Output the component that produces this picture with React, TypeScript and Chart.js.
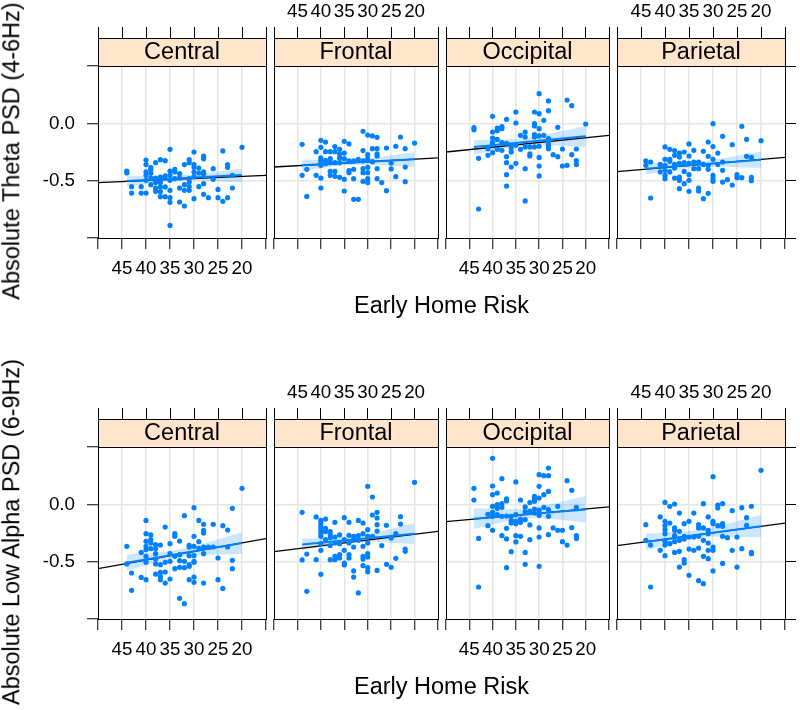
import React, { useEffect, useRef } from 'react';
import { Chart, registerables } from 'chart.js';

Chart.register(...registerables);

const FONT = '"Liberation Sans", Arial, Helvetica, sans-serif';
Chart.defaults.font.family = FONT;
Chart.defaults.color = '#000';

// ---------------- data ----------------
type Group = [number, number[]];

const regions = ['Central', 'Frontal', 'Occipital', 'Parietal'];
const rowYLabels = ['Absolute Theta PSD (4-6Hz)', 'Absolute Low Alpha PSD (6-9Hz)'];
const xLabel = 'Early Home Risk';
const xTickLabels = ['45', '40', '35', '30', '25', '20'];
const yTickLabels = ['0.0', '-0.5'];

const thetaCentral: Group[] = [
  [44, [-0.416, -0.433]], [43, [-0.552, -0.608]], [41, [-0.552, -0.608]],
  [40, [-0.32, -0.36, -0.424, -0.453, -0.497, -0.608]],
  [39, [-0.384, -0.404, -0.436, -0.477, -0.535]],
  [38, [-0.343, -0.477, -0.517, -0.564, -0.593]],
  [37, [-0.317, -0.468, -0.517, -0.555, -0.596, -0.64]],
  [36, [-0.326, -0.459, -0.555, -0.64]],
  [35, [-0.227, -0.416, -0.453, -0.497, -0.584, -0.648, -0.689, -0.89]],
  [34, [-0.401, -0.424, -0.483]],
  [33, [-0.439, -0.477, -0.564, -0.686]],
  [32, [-0.36, -0.535, -0.584, -0.721]],
  [31, [-0.317, -0.343, -0.483, -0.512, -0.552, -0.584]],
  [30, [-0.25, -0.36, -0.384, -0.424, -0.465, -0.657]],
  [29, [-0.39, -0.433, -0.552]],
  [28, [-0.285, -0.308, -0.424, -0.442, -0.526, -0.619]],
  [27, [-0.648]], [26, [-0.395, -0.488]], [25, [-0.576, -0.648]],
  [24, [-0.241, -0.68]], [23, [-0.36, -0.384, -0.648]], [22, [-0.453, -0.564]],
  [20, [-0.209]],
];

const thetaFrontal: Group[] = [
  [44, [-0.183, -0.453]], [43, [-0.401, -0.637]], [41, [-0.247, -0.453]],
  [40, [-0.148, -0.209, -0.302, -0.323, -0.343, -0.366, -0.477, -0.564]],
  [39, [-0.163, -0.247, -0.323, -0.352]],
  [38, [-0.247, -0.308, -0.343, -0.419, -0.453]],
  [37, [-0.203, -0.247, -0.343, -0.419, -0.462]],
  [36, [-0.227, -0.267, -0.302, -0.343, -0.471]],
  [35, [-0.157, -0.259, -0.308, -0.488, -0.59]],
  [34, [-0.18, -0.328, -0.413, -0.43]],
  [33, [-0.328, -0.401, -0.483, -0.663]],
  [32, [-0.314, -0.663]],
  [31, [-0.07, -0.238, -0.328, -0.395, -0.43, -0.506]],
  [30, [-0.102, -0.273, -0.308, -0.384, -0.43, -0.483, -0.517]],
  [29, [-0.11, -0.221, -0.334]],
  [28, [-0.122, -0.221, -0.267, -0.285, -0.395, -0.483]],
  [27, [-0.517]], [26, [-0.215, -0.587]], [25, [-0.346, -0.398]],
  [24, [-0.2, -0.465]], [23, [-0.119]], [22, [-0.221, -0.381, -0.509]],
  [20, [-0.172]],
];

const thetaOccipital: Group[] = [
  [44, [-0.038, -0.055]], [43, [-0.305, -0.747]], [41, [-0.221, -0.279]],
  [40, [0.061, -0.076, -0.128, -0.166, -0.186, -0.256]],
  [39, [-0.041, -0.064, -0.14, -0.227]],
  [38, [-0.029, -0.047, -0.169, -0.235]],
  [37, [0.035, -0.174, -0.291, -0.343, -0.448, -0.547]],
  [36, [-0.192, -0.215, -0.25, -0.381]],
  [35, [0.099, 0.003, -0.192, -0.349]],
  [34, [-0.105, -0.227]],
  [33, [-0.076, -0.119, -0.206, -0.395, -0.677]],
  [32, [-0.206, -0.267, -0.285]],
  [31, [0.099, -0.003, -0.023, -0.099, -0.119, -0.206]],
  [30, [0.259, 0.084, -0.047, -0.11, -0.2, -0.297, -0.372, -0.459]],
  [29, [0.026, -0.105]],
  [28, [0.195, 0.11, -0.134, -0.163, -0.192, -0.221]],
  [27, [-0.273]], [26, [-0.035, -0.291]], [25, [-0.224, -0.372]],
  [24, [0.203, -0.366]], [23, [0.154, -0.273]], [22, [-0.224, -0.326, -0.358]],
  [20, [-0.006]],
];

const thetaParietal: Group[] = [
  [44, [-0.328, -0.366]], [43, [-0.337, -0.651]], [41, [-0.358, -0.424]],
  [40, [-0.206, -0.314, -0.366, -0.41, -0.453, -0.483]],
  [39, [-0.227, -0.314, -0.331, -0.424]],
  [38, [-0.238, -0.279, -0.358, -0.39, -0.477]],
  [37, [-0.259, -0.294, -0.349, -0.468, -0.497, -0.57]],
  [36, [-0.25, -0.343, -0.419, -0.526]],
  [35, [-0.18, -0.285, -0.349, -0.448, -0.497, -0.593]],
  [34, [-0.235, -0.337, -0.395]],
  [33, [-0.337, -0.395, -0.564, -0.59]],
  [32, [-0.244, -0.358, -0.657]],
  [31, [-0.163, -0.288, -0.366, -0.401, -0.61]],
  [30, [-0.003, -0.203, -0.314, -0.453, -0.483, -0.506]],
  [29, [-0.259, -0.36]],
  [28, [-0.113, -0.337, -0.41, -0.512]],
  [27, [-0.491]], [26, [-0.186, -0.538]], [25, [-0.448, -0.474]],
  [24, [-0.026, -0.474]], [23, [-0.14, -0.288]], [22, [-0.297, -0.471, -0.5]],
  [20, [-0.151]],
];

const alphaCentral: Group[] = [
  [44, [-0.366, -0.52]], [43, [-0.599, -0.75]], [41, [-0.419, -0.637]],
  [40, [-0.14, -0.256, -0.323, -0.366, -0.395, -0.453, -0.506, -0.657]],
  [39, [-0.267, -0.308, -0.337, -0.387]],
  [38, [-0.352, -0.387, -0.43, -0.477, -0.52, -0.608]],
  [37, [-0.355, -0.526, -0.593, -0.628, -0.657]],
  [36, [-0.198, -0.506, -0.59, -0.686]],
  [35, [-0.343, -0.43, -0.497, -0.651]],
  [34, [-0.256, -0.279, -0.453, -0.561]],
  [33, [-0.32, -0.439, -0.491, -0.549, -0.82]],
  [32, [-0.099, -0.497, -0.552, -0.866]],
  [31, [-0.358, -0.372, -0.448, -0.526, -0.541, -0.657]],
  [30, [-0.029, -0.279, -0.366, -0.448, -0.497, -0.506, -0.634, -0.68]],
  [29, [-0.14, -0.326, -0.384]],
  [28, [-0.174, -0.227, -0.25, -0.372, -0.43, -0.686]],
  [27, [-0.372]], [26, [-0.174, -0.372]], [25, [-0.468, -0.657]],
  [24, [-0.186, -0.733]], [23, [-0.224, -0.372]], [22, [-0.035, -0.488, -0.561]],
  [20, [0.14]],
];

const alphaFrontal: Group[] = [
  [44, [-0.07, -0.485]], [43, [-0.433, -0.759]], [41, [-0.11, -0.483]],
  [40, [-0.14, -0.163, -0.186, -0.209, -0.233, -0.256, -0.279, -0.343, -0.401, -0.61]],
  [39, [-0.128, -0.209, -0.238, -0.308]],
  [38, [-0.238, -0.262, -0.291, -0.36, -0.483]],
  [37, [-0.157, -0.285, -0.337, -0.453, -0.483]],
  [36, [-0.267, -0.343, -0.439, -0.468]],
  [35, [-0.116, -0.308, -0.401, -0.512, -0.529]],
  [34, [-0.157, -0.27, -0.337, -0.439, -0.468]],
  [33, [-0.279, -0.308, -0.372, -0.581, -0.634]],
  [32, [-0.14, -0.273, -0.314, -0.773]],
  [31, [-0.163, -0.256, -0.366, -0.453, -0.477, -0.535]],
  [30, [0.157, -0.221, -0.279, -0.337, -0.43, -0.459, -0.552, -0.587]],
  [29, [0.064, -0.093, -0.279]],
  [28, [-0.07, -0.119, -0.177, -0.233, -0.576]],
  [27, [-0.36]], [26, [-0.183, -0.523]], [25, [-0.294, -0.549]],
  [24, [-0.256, -0.471]], [23, [-0.108, -0.172]], [22, [-0.39, -0.41]],
  [20, [0.192]],
];

const alphaOccipital: Group[] = [
  [44, [0.14, 0.038]], [43, [-0.297, -0.721]], [41, [-0.087, -0.186]],
  [40, [0.401, 0.16, 0.084, -0.017, -0.07, -0.105, -0.227]],
  [39, [0.099, -0.003, -0.035, -0.09]],
  [38, [0.224, 0.006, -0.026, -0.105, -0.273]],
  [37, [0.047, 0.029, -0.102, -0.209, -0.302, -0.552]],
  [36, [-0.105, -0.14, -0.163, -0.413]],
  [35, [0.195, -0.09, -0.148, -0.169, -0.273, -0.328]],
  [34, [0.038, -0.128, -0.157, -0.279]],
  [33, [-0.023, -0.064, -0.134, -0.419, -0.523]],
  [32, [0.015, -0.061, -0.18, -0.308]],
  [31, [0.07, 0.049, 0.026, -0.041, -0.076]],
  [30, [0.259, 0.157, 0.055, -0.052, -0.096, -0.206, -0.285, -0.541]],
  [29, [0.25, 0.084, -0.026]],
  [28, [0.317, 0.25, 0.113, -0.047, -0.105, -0.265]],
  [27, [-0.206]], [26, [-0.017, -0.227]], [25, [-0.227, -0.326]],
  [24, [0.206, -0.355]], [23, [0.122, -0.203]], [22, [-0.026, -0.273, -0.297]],
];

const alphaParietal: Group[] = [
  [44, [-0.177, -0.314]], [43, [-0.355, -0.721]], [41, [-0.11, -0.401]],
  [40, [0.017, -0.148, -0.186, -0.221, -0.256, -0.323, -0.355, -0.448]],
  [39, [-0.017, -0.163, -0.343]],
  [38, [0.003, -0.206, -0.227, -0.273, -0.326, -0.419]],
  [37, [-0.076, -0.235, -0.314, -0.41, -0.547]],
  [36, [-0.169, -0.279, -0.302, -0.483, -0.512]],
  [35, [-0.148, -0.285, -0.39, -0.619]],
  [34, [-0.076, -0.285, -0.401]],
  [33, [-0.177, -0.206, -0.279, -0.381, -0.666]],
  [32, [0.006, -0.206, -0.314, -0.453, -0.692]],
  [31, [-0.11, -0.227, -0.256, -0.337, -0.401, -0.474]],
  [30, [0.241, -0.148, -0.169, -0.372, -0.401, -0.581]],
  [29, [-0.006, -0.032, -0.186]],
  [28, [0.006, -0.169, -0.192, -0.279, -0.515]],
  [27, [-0.291]], [26, [-0.055, -0.401]], [25, [-0.285, -0.547]],
  [24, [-0.029, -0.387]], [23, [-0.116, -0.183]], [22, [-0.017, -0.419, -0.43]],
  [20, [0.297]],
];

// fitted lines (blue, over data range), confidence band, overall line (black)
const fitX = [44, 20];
const bandX = [44, 33, 20];
const lmX = [50, 15];

const thetaFit = [[-0.503, -0.45], [-0.366, -0.314], [-0.206, -0.113], [-0.395, -0.317]];
const thetaBandLo = [[-0.548, -0.5, -0.512], [-0.415, -0.362, -0.38], [-0.27, -0.195, -0.205], [-0.445, -0.381, -0.39]];
const thetaBandHi = [[-0.46, -0.452, -0.395], [-0.318, -0.318, -0.25], [-0.145, -0.125, -0.025], [-0.345, -0.331, -0.245]];
const thetaLm = [[-0.517, -0.453], [-0.381, -0.302], [-0.25, -0.105], [-0.422, -0.297]];

const alphaFit = [[-0.51, -0.337], [-0.35, -0.256], [-0.125, -0.045], [-0.328, -0.192]];
const alphaBandLo = [[-0.576, -0.462, -0.43], [-0.401, -0.33, -0.346], [-0.215, -0.125, -0.157], [-0.401, -0.292, -0.288]];
const alphaBandHi = [[-0.44, -0.392, -0.244], [-0.299, -0.28, -0.163], [-0.035, -0.035, 0.07], [-0.256, -0.222, -0.096]];
const alphaLm = [[-0.561, -0.299], [-0.413, -0.235], [-0.151, -0.023], [-0.36, -0.163]];

const rows = [
  { groups: [thetaCentral, thetaFrontal, thetaOccipital, thetaParietal], fit: thetaFit, lo: thetaBandLo, hi: thetaBandHi, lm: thetaLm },
  { groups: [alphaCentral, alphaFrontal, alphaOccipital, alphaParietal], fit: alphaFit, lo: alphaBandLo, hi: alphaBandHi, lm: alphaLm },
];

// ---------------- layout ----------------
const PANEL_L = [98, 270, 442, 613];
const PANEL_R = [270, 442, 613, 785];
const ROW_TOP = [0, 355];
const AREA_TOP = [66, 92];
const AREA_BOTTOM = [238, 264];
const CANVAS_H = 355;
const STRIP_H = 28;
const TICK_FONT = 18.8;
const BIG_FONT = 23.5;

const BLUE = '#0080ff';
const GRID = '#e6e6e6';

const toPoints = (g: Group[]) => g.flatMap(([x, ys]) => ys.map((y) => ({ x, y })));
const pair = (xs: number[], ys: number[]) => xs.map((x, i) => ({ x, y: ys[i] }));

interface PanelProps { row: number; col: number; }

function Panel({ row, col }: PanelProps) {
  const ref = useRef<HTMLCanvasElement>(null);
  const padL = col === 0 ? 98 : 5;
  const padR = col === 3 ? 15 : 5;
  const left = PANEL_L[col] - padL;
  const width = PANEL_R[col] - PANEL_L[col] + padL + padR;
  const top = ROW_TOP[row];
  const areaTop = AREA_TOP[row];
  const areaBottom = AREA_BOTTOM[row];

  useEffect(() => {
    const r = rows[row];
    const name = regions[col];
    const showBottom = col % 2 === 0;
    const showTop = col % 2 === 1;
    const edgeX = (c: any) => (c.tick && (c.tick.value === 15 || c.tick.value === 50) ? 'rgba(0,0,0,0)' : GRID);
    const edgeY = (c: any) => (c.tick && (Math.abs(c.tick.value + 1) < 1e-9 || Math.abs(c.tick.value - 0.5) < 1e-9) ? 'rgba(0,0,0,0)' : GRID);
    const xCb = (show: boolean) => (v: any) => (show && xTickLabels.includes(String(v)) ? String(v) : '');

    const strip = {
      id: 'strip',
      afterDraw(chart: any) {
        const { ctx, chartArea } = chart;
        const { left: l, right: rr, top: t, bottom: b } = chartArea;
        ctx.save();
        ctx.fillStyle = '#ffe5cc';
        ctx.fillRect(l, t - STRIP_H, rr - l, STRIP_H);
        ctx.strokeStyle = '#000';
        ctx.lineWidth = 1;
        ctx.strokeRect(l + 0.5, t - STRIP_H + 0.5, rr - l, STRIP_H);
        ctx.strokeRect(l + 0.5, t + 0.5, rr - l, b - t);
        ctx.fillStyle = '#000';
        ctx.font = `${BIG_FONT}px ${FONT}`;
        ctx.textAlign = 'center';
        ctx.textBaseline = 'middle';
        ctx.fillText(name, (l + rr) / 2, t - STRIP_H / 2 + 1);
        ctx.restore();
      },
    };

    const scales: any = {
      x: {
        type: 'linear', position: 'bottom', min: 15, max: 50, reverse: true,
        ticks: { stepSize: 5, autoSkip: false, maxRotation: 0, minRotation: 0, padding: 9, color: '#000', font: { size: TICK_FONT }, callback: xCb(showBottom) },
        grid: { color: edgeX, lineWidth: 1.5, tickLength: 11, tickColor: '#000', tickWidth: 1 },
        border: { display: false },
        afterFit: (s: any) => { s.height = CANVAS_H - areaBottom; },
      },
      xTop: {
        type: 'linear', axis: 'x', position: 'top', min: 15, max: 50, reverse: true,
        ticks: { stepSize: 5, autoSkip: false, maxRotation: 0, minRotation: 0, padding: 4, color: '#000', font: { size: TICK_FONT }, callback: xCb(showTop) },
        grid: { drawOnChartArea: false, color: '#000', tickLength: STRIP_H + 11, tickColor: '#000', tickWidth: 1 },
        border: { display: false },
        afterFit: (s: any) => { s.height = areaTop; },
      },
      y: {
        type: 'linear', position: 'left', min: -1, max: 0.5,
        ticks: {
          stepSize: 0.5, display: col === 0, padding: 12, color: '#000', font: { size: TICK_FONT },
          callback: (v: any) => { const s = Number(v).toFixed(1); return yTickLabels.includes(s) ? s : ''; },
        },
        grid: { color: edgeY, lineWidth: 1.5, drawTicks: col === 0, tickLength: 11, tickColor: '#000', tickWidth: 1 },
        border: { display: false },
        afterFit: (s: any) => { s.width = padL; },
      },
    };
    if (col === 3) {
      scales.y2 = {
        type: 'linear', position: 'right', min: -1, max: 0.5,
        ticks: { stepSize: 0.5, display: false },
        grid: { drawOnChartArea: false, color: '#000', tickLength: 11, tickColor: '#000', tickWidth: 1 },
        border: { display: false },
        afterFit: (s: any) => { s.width = padR; },
      };
    }

    const chart = new Chart(ref.current as HTMLCanvasElement, {
      type: 'scatter',
      data: {
        datasets: [
          { type: 'scatter', data: toPoints(r.groups[col]), pointRadius: 2.6, pointBorderWidth: 0, pointBackgroundColor: BLUE, borderColor: BLUE, backgroundColor: BLUE } as any,
          { type: 'line', data: pair(fitX, r.fit[col]), borderColor: BLUE, borderWidth: 2, pointRadius: 0, fill: false } as any,
          { type: 'line', data: pair(lmX, r.lm[col]), borderColor: '#000', borderWidth: 1.3, pointRadius: 0, fill: false } as any,
          { type: 'line', data: pair(bandX, r.lo[col]), borderWidth: 0, borderColor: 'rgba(0,0,0,0)', pointRadius: 0, fill: false, tension: 0.4 } as any,
          { type: 'line', data: pair(bandX, r.hi[col]), borderWidth: 0, borderColor: 'rgba(0,0,0,0)', pointRadius: 0, fill: '-1', backgroundColor: 'rgba(0,128,255,0.2)', tension: 0.4 } as any,
        ],
      },
      options: {
        responsive: false,
        animation: false,
        devicePixelRatio: 1,
        events: [],
        layout: { padding: { left: 0, right: col === 3 ? 0 : padR, top: 0, bottom: 0 } },
        plugins: { legend: { display: false }, tooltip: { enabled: false }, title: { display: false } },
        scales,
      } as any,
      plugins: [strip],
    });
    return () => chart.destroy();
  }, [row, col]);

  return (
    <canvas
      ref={ref}
      width={width}
      height={CANVAS_H}
      style={{ position: 'absolute', left, top, width, height: CANVAS_H }}
    />
  );
}

const yLabCenter = [151, 532];
const xLabCenter = [306, 687];

export default function App() {
  const textStyle: React.CSSProperties = {
    position: 'absolute', fontFamily: FONT, fontSize: BIG_FONT, lineHeight: 1, whiteSpace: 'nowrap', color: '#000',
  };
  return (
    <div style={{ position: 'absolute', left: 0, top: 0, width: 800, height: 710, background: '#fff', overflow: 'hidden' }}>
      {[0, 1].map((row) => (
        <React.Fragment key={row}>
          {[0, 1, 2, 3].map((col) => <Panel key={col} row={row} col={col} />)}
          <div style={{ ...textStyle, left: 11.5, top: yLabCenter[row], transform: 'translate(-50%, -50%) rotate(-90deg)' }}>
            {rowYLabels[row]}
          </div>
          <div style={{ ...textStyle, left: 441.5, top: xLabCenter[row], transform: 'translate(-50%, -50%)' }}>
            {xLabel}
          </div>
        </React.Fragment>
      ))}
    </div>
  );
}
